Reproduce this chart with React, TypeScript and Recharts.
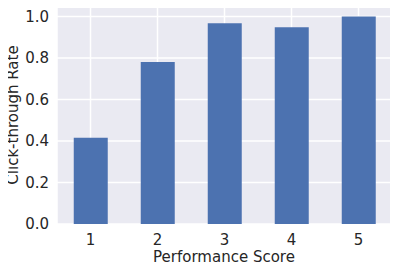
import React from 'react';
import { BarChart, Bar, XAxis, YAxis, CartesianGrid } from 'recharts';

const scores = ['1', '2', '3', '4', '5'];
const rates = [0.416, 0.78, 0.967, 0.948, 1.0];
const yTicks = [0, 0.2, 0.4, 0.6, 0.8, 1.0];

const data = scores.map((s, i) => ({ score: s, rate: rates[i] }));

const FONT = 'DejaVu Sans, sans-serif';
const TEXT = '#262626';

const App = () => {
  return (
    <div style={{ margin: -8, width: 398, height: 272, background: '#fff', position: 'relative' }}>
      <BarChart
        width={398}
        height={272}
        data={data}
        margin={{ top: 6, right: 6, left: 0, bottom: 0 }}
        barCategoryGap="25%"
      >
        <CartesianGrid fill="#EAEAF2" stroke="#ffffff" strokeWidth={1.5} />
        <XAxis
          dataKey="score"
          height={48}
          tickLine={false}
          axisLine={false}
          tick={{ fill: TEXT, fontSize: 15, fontFamily: FONT }}
          tickMargin={4}
        />
        <YAxis
          width={57}
          domain={[0, 1.05]}
          ticks={yTicks}
          allowDataOverflow
          tickLine={false}
          axisLine={false}
          tickFormatter={(v: number) => v.toFixed(1)}
          tick={{ fill: TEXT, fontSize: 15, fontFamily: FONT }}
          tickMargin={2}
        />
        <Bar dataKey="rate" fill="#4C72B0" isAnimationActive={false} />
      </BarChart>
      {/* axis titles, drawn on top the way matplotlib places them */}
      <svg width={398} height={272} style={{ position: 'absolute', left: 0, top: 0, pointerEvents: 'none' }}>
        <text x={224} y={262} textAnchor="middle" fill={TEXT} fontSize={15} fontFamily={FONT}>
          Performance Score
        </text>
        <text x={18} y={115} textAnchor="middle" fill={TEXT} fontSize={15} fontFamily={FONT} transform="rotate(-90 18 115)">
          Click-through Rate
        </text>
      </svg>
    </div>
  );
};

export default App;
